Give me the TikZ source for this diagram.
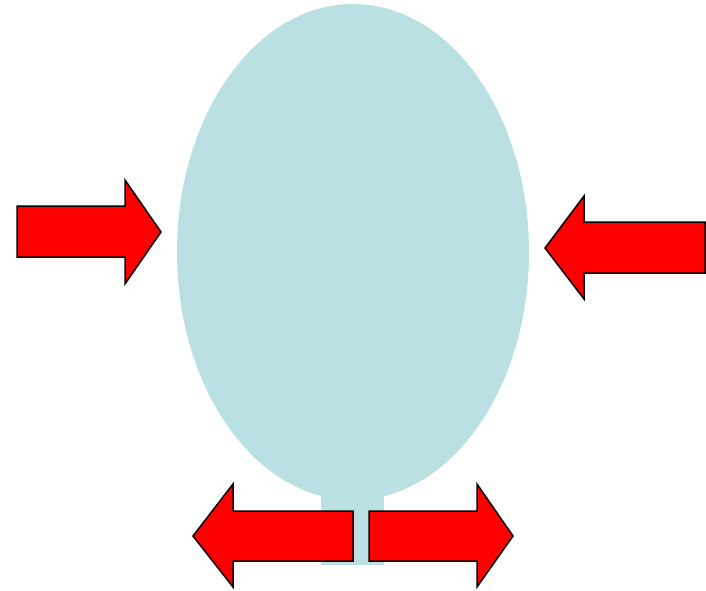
\documentclass[tikz,border=0pt]{standalone}
\begin{document}
\begin{tikzpicture}[x=1pt,y=-1pt,
  body/.style={fill=bodyc,draw=none},
  redarrow/.style={fill=red,draw=black,line width=1.5pt,line join=miter}]
\definecolor{bodyc}{HTML}{BBE0E3}
\useasboundingbox (0,0) rectangle (706,590);
% balloon body and stem
\fill[body] (353,252) ellipse [x radius=176, y radius=248];
\fill[body] (321,480) rectangle (384,565);
% left arrow pointing right
\draw[redarrow] (17,206) -- (125,206) -- (125,180) -- (161,232) -- (125,284) -- (125,257) -- (17,257) -- cycle;
% right arrow pointing left
\draw[redarrow] (705,222) -- (584,222) -- (584,196) -- (545,248) -- (584,299) -- (584,273) -- (705,273) -- cycle;
% bottom left arrow pointing left
\draw[redarrow] (353,511) -- (233,511) -- (233,484) -- (193,536) -- (233,587) -- (233,561) -- (353,561) -- cycle;
% bottom right arrow pointing right
\draw[redarrow] (369,511) -- (477,511) -- (477,484) -- (513,536) -- (477,587) -- (477,561) -- (369,561) -- cycle;
\end{tikzpicture}
\end{document}
